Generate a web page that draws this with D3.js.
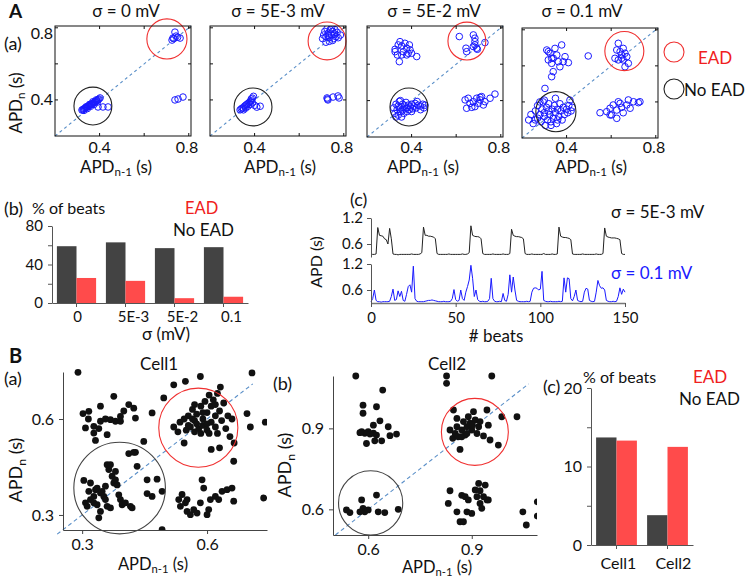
<!DOCTYPE html>
<html><head><meta charset="utf-8">
<script src="https://cdnjs.cloudflare.com/ajax/libs/d3/7.8.5/d3.min.js"></script>
<style>body{margin:0;background:#fff;} text{font-family:Lato,'Open Sans',sans-serif;fill:#111;}</style>
</head><body><script>
// ---------------- DATA ----------------
const sigmaTitles = ["σ = 0 mV", "σ = 5E-3 mV", "σ = 5E-2 mV", "σ = 0.1 mV"];
const apdTickLabelsA = [0.4, 0.8];
const apdTickMarksA = [0.4, 0.6, 0.8];

const returnMap0 = [
 [0.321,0.344],[0.325,0.346],[0.329,0.35],[0.333,0.352],[0.337,0.356],[0.341,0.358],[0.345,0.362],[0.349,0.365],
 [0.353,0.368],[0.357,0.372],[0.361,0.374],[0.365,0.378],[0.369,0.381],[0.373,0.384],[0.377,0.387],[0.381,0.39],
 [0.385,0.394],[0.389,0.397],[0.393,0.401],[0.397,0.405],[0.402,0.411],[0.33,0.342],[0.345,0.352],[0.36,0.365],
 [0.375,0.375],[0.39,0.388],[0.34,0.362],[0.355,0.375],[0.37,0.39],[0.385,0.4],
 [0.393,0.361],[0.415,0.361],[0.438,0.361],
 [0.729,0.743],[0.738,0.776],[0.761,0.743],[0.725,0.732],[0.743,0.754],[0.733,0.74],[0.75,0.748],
 [0.738,0.4],[0.752,0.405],[0.774,0.416]
];
const returnMap1 = [
 [0.335,0.345],[0.34,0.35],[0.345,0.355],[0.35,0.355],[0.355,0.365],[0.36,0.37],[0.365,0.375],[0.37,0.38],
 [0.375,0.385],[0.38,0.39],[0.385,0.395],[0.39,0.41],[0.395,0.42],[0.385,0.405],[0.37,0.365],[0.36,0.355],
 [0.38,0.375],[0.4,0.37],[0.41,0.36],[0.425,0.365],[0.35,0.345],[0.39,0.385],
 [0.705,0.74],[0.71,0.76],[0.715,0.78],[0.72,0.75],[0.725,0.795],[0.73,0.77],[0.735,0.745],[0.74,0.79],
 [0.745,0.76],[0.75,0.78],[0.755,0.74],[0.76,0.765],[0.765,0.75],[0.77,0.775],[0.775,0.745],[0.72,0.72],
 [0.735,0.725],[0.75,0.73],[0.785,0.76],[0.745,0.8],[0.73,0.76],[0.76,0.79],
 [0.725,0.411],[0.729,0.4],[0.752,0.416],[0.774,0.422],[0.779,0.411],[0.727,0.405]
];
const returnMap2 = [
 [0.326,0.682],[0.34,0.706],[0.348,0.724],[0.356,0.7],[0.363,0.669],[0.378,0.688],[0.385,0.66],[0.393,0.679],
 [0.4,0.66],[0.336,0.651],[0.356,0.651],[0.345,0.614],[0.423,0.642],[0.37,0.715],[0.39,0.706],[0.326,0.669],[0.378,0.651],
 [0.614,0.752],[0.644,0.688],[0.647,0.669],[0.677,0.761],[0.684,0.743],[0.684,0.724],[0.684,0.706],[0.692,0.688],
 [0.677,0.697],[0.729,0.719],[0.695,0.682],
 [0.32,0.36],[0.325,0.33],[0.33,0.38],[0.335,0.35],[0.34,0.32],[0.34,0.37],[0.345,0.395],[0.35,0.34],[0.35,0.36],
 [0.355,0.31],[0.36,0.38],[0.36,0.35],[0.365,0.33],[0.37,0.37],[0.37,0.355],[0.375,0.39],[0.38,0.34],[0.38,0.36],
 [0.385,0.375],[0.39,0.35],[0.395,0.365],[0.4,0.38],[0.405,0.355],[0.41,0.37],[0.415,0.385],[0.42,0.36],[0.43,0.375],
 [0.44,0.37],[0.45,0.38],[0.455,0.36],[0.46,0.375],[0.33,0.31],[0.35,0.4],[0.4,0.34],[0.425,0.395],[0.44,0.35],
 [0.64,0.404],[0.647,0.358],[0.654,0.413],[0.662,0.385],[0.677,0.394],[0.684,0.367],[0.692,0.413],[0.699,0.385],
 [0.707,0.404],[0.714,0.422],[0.722,0.376],[0.729,0.394],[0.752,0.413],[0.774,0.436],[0.67,0.363],[0.707,0.418]
];
const returnMap3 = [
 [0.311,0.688],[0.318,0.633],[0.326,0.67],[0.333,0.614],[0.34,0.642],[0.348,0.697],[0.356,0.66],[0.363,0.623],
 [0.37,0.595],[0.378,0.716],[0.385,0.623],[0.393,0.651],[0.408,0.618],[0.34,0.568],[0.333,0.54],[0.303,0.475],
 [0.497,0.655],[0.318,0.679],[0.333,0.642],
 [0.632,0.725],[0.625,0.688],[0.64,0.679],[0.647,0.66],[0.654,0.697],[0.662,0.67],[0.67,0.651],[0.654,0.633],
 [0.677,0.614],[0.662,0.595],[0.647,0.642],[0.617,0.642],[0.632,0.633],
 [0.55,0.34],[0.58,0.346],[0.595,0.365],[0.602,0.328],[0.609,0.383],[0.625,0.355],[0.625,0.309],[0.64,0.392],
 [0.647,0.37],[0.654,0.34],[0.67,0.383],[0.677,0.411],[0.685,0.365],[0.7,0.401],[0.722,0.396],[0.729,0.401],
 [0.632,0.401],[0.595,0.328],
 [0.23,0.3],[0.24,0.33],[0.25,0.28],[0.26,0.35],[0.27,0.31],[0.27,0.38],[0.28,0.33],[0.285,0.29],[0.29,0.36],
 [0.295,0.4],[0.3,0.32],[0.3,0.34],[0.305,0.27],[0.31,0.37],[0.315,0.3],[0.32,0.35],[0.32,0.39],[0.325,0.33],
 [0.33,0.29],[0.335,0.36],[0.34,0.31],[0.345,0.38],[0.35,0.34],[0.355,0.28],[0.36,0.36],[0.365,0.32],[0.37,0.39],
 [0.375,0.35],[0.38,0.3],[0.385,0.37],[0.39,0.33],[0.4,0.36],[0.405,0.34],[0.41,0.38],[0.415,0.41],[0.42,0.35],
 [0.425,0.37],[0.3,0.41],[0.35,0.42],[0.26,0.3],[0.33,0.27],[0.28,0.4],[0.36,0.3]
];
const returnMapsA = [returnMap0, returnMap1, returnMap2, returnMap3];
// [cx, cy, r] in data units
const eadCircleA = [[0.702,0.738,0.09],[0.725,0.727,0.085],[0.648,0.727,0.085],[0.659,0.682,0.0875]];
const noEadCircleA = [[0.37,0.366,0.085],[0.393,0.361,0.085],[0.388,0.365,0.085],[0.352,0.346,0.09]];

const sigmaCats = ["0", "5E-3", "5E-2", "0.1"];
const pctNoEAD = [59, 63, 57, 58];
const pctEAD = [26, 23, 5, 6.5];
const pctTicks = [0, 20, 40, 60, 80];

const traceSigmaLow = [
 0.37,0.36,0.36,0.37,0.98,0.80,0.79,0.78,0.72,0.70,
 0.60,0.96,0.72,0.37,0.36,0.36,0.35,0.36,0.36,0.36,
 0.36,0.36,0.36,0.36,0.37,0.36,0.36,0.36,0.36,0.37,
 0.40,0.99,0.80,0.80,0.78,0.78,0.77,0.76,0.72,0.38,
 0.36,0.36,0.36,0.36,0.36,0.36,0.37,0.36,0.36,0.36,
 0.36,0.36,0.36,0.36,0.37,0.36,0.36,0.37,0.40,1.02,
 0.80,0.78,0.77,0.77,0.76,0.72,0.38,0.36,0.36,0.36,
 0.36,0.36,0.37,0.36,0.36,0.36,0.36,0.36,0.37,0.36,
 0.36,0.36,0.38,0.94,0.80,0.78,0.77,0.77,0.76,0.75,
 0.72,0.38,0.36,0.36,0.36,0.37,0.36,0.36,0.36,0.36,
 0.36,0.36,0.38,0.36,0.36,0.36,0.36,0.37,0.36,0.36,
 0.37,0.99,0.78,0.76,0.75,0.75,0.74,0.73,0.70,0.37,
 0.36,0.36,0.36,0.36,0.36,0.37,0.36,0.36,0.36,0.36,
 0.36,0.36,0.36,0.37,0.36,0.36,0.36,0.38,0.97,0.78,
 0.76,0.75,0.74,0.74,0.74,0.73,0.72,0.70,0.38,0.36,
 0.36
];
const traceSigmaHigh = [
 0.33,0.40,0.60,0.36,0.33,0.33,0.32,0.33,0.33,0.33,
 0.33,0.34,0.45,0.62,0.36,0.38,0.58,0.45,0.57,0.36,
 0.34,0.50,0.68,0.72,0.55,1.15,0.40,0.34,0.33,0.33,
 0.33,0.33,0.34,0.35,0.36,0.36,0.37,0.36,0.35,0.34,
 0.33,0.33,0.33,0.34,0.33,0.33,0.33,0.34,0.40,0.61,
 0.38,0.34,0.36,0.60,0.40,0.36,0.55,0.68,0.83,1.17,
 0.87,0.45,0.60,0.38,0.34,0.33,0.34,0.33,0.33,0.34,
 0.40,0.87,0.40,0.34,0.33,0.33,0.34,0.33,0.52,0.36,
 0.34,0.50,0.95,0.55,0.90,0.60,0.36,0.34,0.33,0.33,
 0.33,0.33,0.34,0.33,0.34,0.55,0.64,0.65,0.64,0.60,
 0.62,1.03,0.36,0.34,0.33,0.33,0.34,0.33,0.33,0.33,
 0.33,0.34,0.33,0.34,0.88,0.55,0.88,0.86,0.40,0.35,
 0.45,0.60,0.36,0.34,0.33,0.34,0.55,0.64,0.62,0.36,
 0.34,0.33,0.34,0.55,0.82,0.70,0.64,0.65,0.60,0.36,
 0.34,0.33,0.33,0.34,0.33,0.34,0.45,0.65,0.50,0.62,
 0.55
];
const beatTicks = [0, 50, 100, 150];
const apdTraceTicks = [0.6, 1.2];

const cell1Map = [
 [0.29,0.746],[0.302,0.617],[0.316,0.624],[0.344,0.64],[0.376,0.671],[0.368,0.598],[0.38,0.593],[0.392,0.608],
 [0.412,0.645],[0.424,0.634],[0.308,0.572],[0.328,0.577],[0.328,0.556],[0.332,0.533],[0.36,0.551],[0.344,0.593],
 [0.392,0.593],[0.428,0.603],[0.468,0.619],[0.448,0.53],[0.428,0.496],[0.412,0.492],[0.4,0.625],[0.356,0.6],
 [0.315,0.6],[0.34,0.57],
 [0.496,0.666],[0.52,0.707],[0.548,0.718],[0.584,0.733],[0.632,0.7],[0.708,0.744],[0.696,0.617],[0.704,0.575],
 [0.74,0.59],[0.664,0.468],[0.736,0.353],
 [0.52,0.575],[0.53,0.56],[0.535,0.59],[0.545,0.525],[0.55,0.565],[0.555,0.61],[0.56,0.575],[0.565,0.63],
 [0.57,0.595],[0.57,0.56],[0.575,0.615],[0.58,0.57],[0.585,0.64],[0.585,0.555],[0.59,0.6],[0.59,0.58],
 [0.595,0.655],[0.6,0.62],[0.6,0.565],[0.605,0.675],[0.61,0.59],[0.61,0.64],[0.615,0.66],[0.62,0.61],
 [0.625,0.555],[0.625,0.68],[0.63,0.625],[0.635,0.595],[0.64,0.65],[0.645,0.57],[0.65,0.61],[0.655,0.545],
 [0.66,0.6],[0.665,0.525],[0.63,0.51],[0.61,0.505],[0.575,0.585],[0.565,0.6],[0.555,0.58],[0.59,0.62],
 [0.6,0.585],[0.62,0.575],[0.62,0.645],[0.57,0.645],[0.545,0.6],[0.605,0.555],
 [0.304,0.408],[0.308,0.338],[0.316,0.374],[0.32,0.348],[0.328,0.358],[0.332,0.379],[0.336,0.332],[0.34,0.291],
 [0.344,0.311],[0.344,0.369],[0.352,0.358],[0.356,0.39],[0.36,0.457],[0.364,0.442],[0.368,0.457],[0.372,0.421],
 [0.376,0.4],[0.38,0.436],[0.384,0.394],[0.388,0.363],[0.392,0.348],[0.396,0.332],[0.404,0.338],[0.416,0.327],
 [0.42,0.322],[0.36,0.327],[0.368,0.322],[0.424,0.496],[0.432,0.452],[0.456,0.41],[0.456,0.367],[0.468,0.358],
 [0.48,0.412],[0.492,0.374],[0.38,0.41],[0.32,0.4],[0.336,0.384],[0.348,0.374],[0.356,0.348],[0.328,0.338],
 [0.312,0.327],
 [0.532,0.348],[0.536,0.327],[0.548,0.338],[0.552,0.311],[0.56,0.301],[0.568,0.317],[0.576,0.306],[0.584,0.338],
 [0.588,0.41],[0.592,0.384],[0.6,0.301],[0.604,0.317],[0.608,0.348],[0.62,0.358],[0.628,0.348],[0.636,0.374],
 [0.648,0.379],[0.66,0.384],[0.664,0.343],[0.552,0.348],[0.54,0.364],[0.492,0.254]
];
const cell2Map = [
 [0.585,0.986],[0.585,0.956],[0.624,0.98],[0.642,1.042],[0.581,0.888],[0.59,0.882],[0.6,0.888],[0.615,0.912],
 [0.634,0.928],[0.615,0.882],[0.595,0.844],[0.619,0.854],[0.639,0.854],[0.658,0.906],[0.663,0.873],[0.682,0.879],
 [0.605,0.879],[0.576,0.884],[0.624,0.875],
 [0.564,1.094],[0.827,1.094],[0.827,1.067],[0.958,1.094],
 [0.837,0.894],[0.845,0.863],[0.852,0.881],[0.857,0.906],[0.861,0.869],[0.866,0.822],[0.871,0.894],[0.876,0.925],
 [0.881,0.875],[0.886,0.906],[0.89,0.943],[0.895,0.919],[0.9,0.894],[0.905,0.962],[0.91,0.931],[0.915,0.881],
 [0.92,0.906],[0.924,0.925],[0.934,0.872],[0.944,0.968],[0.948,0.912],[0.953,0.857],[0.977,0.838],[0.847,0.968],
 [0.857,0.937],[0.871,0.869],[0.886,0.881],[0.902,0.912],[0.987,0.943],[1.031,0.943],
 [0.537,0.598],[0.547,0.588],[0.581,0.635],[0.585,0.604],[0.59,0.591],[0.6,0.598],[0.624,0.653],[0.629,0.591],
 [0.648,0.588],[0.687,0.6],[0.576,0.591],
 [0.837,0.669],[0.832,0.622],[0.857,0.591],[0.866,0.554],[0.876,0.554],[0.871,0.652],[0.881,0.647],[0.89,0.635],
 [0.9,0.585],[0.91,0.672],[0.92,0.696],[0.924,0.669],[0.924,0.622],[0.934,0.647],[0.939,0.69],[0.944,0.635],
 [0.948,0.635],[0.929,0.604],[0.915,0.647],[0.886,0.591],
 [1.048,0.591],[1.058,0.542],[1.09,0.628],[1.09,0.575]
];
const cellCats = ["Cell1", "Cell2"];
const cellNoEAD = [13.7, 3.8];
const cellEAD = [13.3, 12.5];
const cellPctTicks = [0, 5, 10, 15, 20];

// ---------------- STYLE ----------------
const RED = "#ff4b4b", DARK = "#434343", BLUE = "#1a1aff", DIAG = "#5a8fc8";
const W = 750, H = 578;
const svg = d3.select("body").append("svg").attr("width", W).attr("height", H);

function txt(x, y, s, size, opt = {}) {
  const t = svg.append("text").attr("x", x).attr("y", y).attr("font-size", size).text(s);
  if (opt.anchor) t.attr("text-anchor", opt.anchor);
  if (opt.fill) t.style("fill", opt.fill);
  if (opt.weight) t.attr("font-weight", opt.weight);
  return t;
}
function apdLabel(x, y, sub, size, rotate) {
  const t = svg.append("text").attr("x", x).attr("y", y).attr("font-size", size).attr("text-anchor", "middle");
  if (rotate) t.attr("transform", `rotate(-90,${x},${y})`);
  t.append("tspan").text("APD");
  t.append("tspan").text(sub).attr("font-size", size * 0.68).attr("dy", size * 0.2);
  t.append("tspan").text(" (s)").attr("dy", -size * 0.2);
  return t;
}

// ---------------- PANEL A(a) ----------------
const domA = [0.2, 0.81];
const layA = [
  {x0: 55, x1: 191, y0: 26, y1: 136, title: 126, xl: 116},
  {x0: 210, x1: 346, y0: 26, y1: 136, title: 278, xl: 280},
  {x0: 367, x1: 503, y0: 26, y1: 137, title: 434, xl: 423},
  {x0: 522, x1: 658, y0: 28, y1: 138, title: 582, xl: 591}
];
returnMapsA.forEach((pts, i) => {
  const L = layA[i];
  const x = d3.scaleLinear().domain(domA).range([L.x0, L.x1]);
  const y = d3.scaleLinear().domain(domA).range([L.y1, L.y0]);
  const g = svg.append("g");
  const cid = "clipA" + i;
  svg.append("clipPath").attr("id", cid).append("rect")
    .attr("x", L.x0).attr("y", L.y0).attr("width", L.x1 - L.x0).attr("height", L.y1 - L.y0);
  g.append("line").attr("x1", x(domA[0])).attr("y1", y(domA[0])).attr("x2", x(domA[1])).attr("y2", y(domA[1]))
    .attr("stroke", DIAG).attr("stroke-width", 1.1).attr("stroke-dasharray", "3,3");
  g.append("g").attr("clip-path", `url(#${cid})`).selectAll("circle").data(pts).join("circle")
    .attr("cx", d => x(d[0])).attr("cy", d => y(d[1])).attr("r", 3.3)
    .attr("fill", "none").attr("stroke", BLUE).attr("stroke-width", 1);
  [[eadCircleA[i], "#f03030"], [noEadCircleA[i], "#222"]].forEach(([c, col]) => {
    g.append("circle").attr("cx", x(c[0])).attr("cy", y(c[1])).attr("r", x(c[0] + c[2]) - x(c[0]))
      .attr("fill", "none").attr("stroke", col).attr("stroke-width", 1.1);
  });
  g.append("rect").attr("x", L.x0).attr("y", L.y0).attr("width", L.x1 - L.x0).attr("height", L.y1 - L.y0)
    .attr("fill", "none").attr("stroke", "#111").attr("stroke-width", 1);
  apdTickMarksA.forEach(v => {
    g.append("line").attr("x1", x(v)).attr("x2", x(v)).attr("y1", L.y1).attr("y2", L.y1 - 3).attr("stroke", "#111");
    g.append("line").attr("x1", x(v)).attr("x2", x(v)).attr("y1", L.y0).attr("y2", L.y0 + 3).attr("stroke", "#111");
    g.append("line").attr("y1", y(v)).attr("y2", y(v)).attr("x1", L.x0).attr("x2", L.x0 + 3).attr("stroke", "#111");
    g.append("line").attr("y1", y(v)).attr("y2", y(v)).attr("x1", L.x1).attr("x2", L.x1 - 3).attr("stroke", "#111");
  });
  apdTickLabelsA.forEach(v => {
    txt(Math.min(x(v), L.x1 - 4), 153, v.toFixed(1), 16, {anchor: "middle"});
    if (i === 0) txt(L.x0 - 2, Math.max(y(v), 33) + 5.5, v.toFixed(1), 16, {anchor: "end"});
  });
  txt(L.title, 17, sigmaTitles[i], 17, {anchor: "middle"});
  apdLabel(L.xl, 173, "n-1", 17, false);
});
txt(9, 18, "A", 19, {weight: "bold"});
txt(4, 50, "(a)", 18);
apdLabel(22, 103, "n", 17, true);
// legend
svg.append("circle").attr("cx", 674).attr("cy", 52).attr("r", 10).attr("fill", "none").attr("stroke", "#f03030").attr("stroke-width", 1.1);
svg.append("circle").attr("cx", 674).attr("cy", 89).attr("r", 10).attr("fill", "none").attr("stroke", "#222").attr("stroke-width", 1.1);
txt(698, 64, "EAD", 17, {fill: "#f02020"});
txt(684, 96, "No EAD", 17);

// ---------------- PANEL A(b) ----------------
{
  const x = d3.scaleBand().domain(sigmaCats).range([52, 248]).paddingInner(0.2).paddingOuter(0.1);
  const y = d3.scaleLinear().domain([0, 80]).range([303, 226]);
  const bw = x.bandwidth() / 2;
  svg.append("g").selectAll("rect").data(sigmaCats).join("rect")
    .attr("x", d => x(d)).attr("width", bw).attr("y", (d, i) => y(pctNoEAD[i])).attr("height", (d, i) => 303 - y(pctNoEAD[i])).attr("fill", DARK);
  svg.append("g").selectAll("rect").data(sigmaCats).join("rect")
    .attr("x", d => x(d) + bw).attr("width", bw).attr("y", (d, i) => y(pctEAD[i])).attr("height", (d, i) => 303 - y(pctEAD[i])).attr("fill", RED);
  const ya = svg.append("g").attr("transform", "translate(52,0)")
    .call(d3.axisLeft(y).tickValues(pctTicks).tickSize(4).tickSizeOuter(0).tickFormat(d => d % 40 === 0 ? d : ""));
  const xa = svg.append("g").attr("transform", "translate(0,303)")
    .call(d3.axisBottom(x).tickSize(4).tickSizeOuter(0));
  [ya, xa].forEach(a => { a.selectAll("path,line").attr("stroke", "#555"); a.selectAll("text").attr("font-size", 15).style("fill", "#111").attr("font-family", null); });
  xa.selectAll("text").attr("dy", 12).attr("dx", (d, i) => i === 0 ? 1 : 8);
  ya.selectAll("text").attr("dx", -2);
  txt(4, 215, "(b)", 18);
  txt(32, 214, "% of beats", 16);
  txt(185, 214, "EAD", 16.5, {fill: "#f02020"});
  txt(173, 236, "No EAD", 17);
  txt(166, 340, "σ (mV)", 17, {anchor: "middle"});
}

// ---------------- PANEL A(c) ----------------
{
  const x = d3.scaleLinear().domain([0, 150]).range([371, 625]);
  const yTop = d3.scaleLinear().domain([0.3, 1.2]).range([257, 218]);
  const yBot = d3.scaleLinear().domain([0.3, 1.2]).range([303, 264]);
  const line = ys => d3.line().x((d, i) => x(i)).y(d => ys(d));
  svg.append("path").datum(traceSigmaLow).attr("d", line(yTop)).attr("fill", "none").attr("stroke", "#222").attr("stroke-width", 1);
  svg.append("path").datum(traceSigmaHigh).attr("d", line(yBot)).attr("fill", "none").attr("stroke", BLUE).attr("stroke-width", 1);
  [yTop, yBot].forEach(ys => {
    const a = svg.append("g").attr("transform", "translate(371,0)")
      .call(d3.axisLeft(ys).tickValues(apdTraceTicks).tickSize(4).tickSizeOuter(0).tickFormat(d3.format(".1f")));
    a.selectAll("path,line").attr("stroke", "#555");
    a.selectAll("text").attr("font-size", 15).style("fill", "#111").attr("font-family", null).attr("dx", -1);
  });
  const xa = svg.append("g").attr("transform", "translate(0,303)")
    .call(d3.axisBottom(x).tickValues(beatTicks).tickSize(4).tickSizeOuter(0));
  xa.selectAll("path").attr("stroke", "#777").attr("stroke-width", 1.5);
  xa.selectAll("line").attr("stroke", "#555");
  xa.selectAll("text").attr("font-size", 15).style("fill", "#111").attr("font-family", null).attr("dy", 13);
  txt(350, 206, "(c)", 18);
  const t = txt(322, 262, "APD (s)", 16, {anchor: "middle"});
  t.attr("transform", "rotate(-90,322,262)");
  txt(496, 342, "# beats", 17, {anchor: "middle"});
  txt(611, 218, "σ = 5E-3 mV", 17);
  txt(611, 279, "σ = 0.1 mV", 17, {fill: BLUE});
}

// ---------------- PANEL B(a),(b) ----------------
function cellScatter(pts, xd, yd, L, ticks, ead, noEad, diag) {
  const x = d3.scaleLinear().domain(xd).range([L.x0, L.x1]);
  const y = d3.scaleLinear().domain(yd).range([L.y1, L.y0]);
  const cid = "clip" + L.x0;
  svg.append("clipPath").attr("id", cid).append("rect")
    .attr("x", L.x0).attr("y", L.y0 - 4).attr("width", L.x1 - L.x0).attr("height", L.y1 - L.y0 + 4);
  svg.append("line").attr("x1", x(diag[0])).attr("y1", y(diag[0])).attr("x2", x(diag[1])).attr("y2", y(diag[1]))
    .attr("stroke", DIAG).attr("stroke-width", 1.1).attr("stroke-dasharray", "4,3");
  svg.append("g").attr("clip-path", `url(#${cid})`).selectAll("circle").data(pts).join("circle")
    .attr("cx", d => x(d[0])).attr("cy", d => y(d[1])).attr("r", 3.4).attr("fill", "#111");
  [[ead, "#f03030"], [noEad, "#444"]].forEach(([c, col]) => {
    svg.append("circle").attr("cx", x(c[0])).attr("cy", y(c[1])).attr("r", x(c[0] + c[2]) - x(c[0]))
      .attr("fill", "none").attr("stroke", col).attr("stroke-width", 1.1);
  });
  const xa = svg.append("g").attr("transform", `translate(0,${L.y1})`)
    .call(d3.axisBottom(x).tickValues(ticks).tickSize(4).tickSizeOuter(0).tickFormat(d3.format(".1f")));
  const ya = svg.append("g").attr("transform", `translate(${L.x0},0)`)
    .call(d3.axisLeft(y).tickValues(ticks).tickSize(4).tickSizeOuter(0).tickFormat(d3.format(".1f")));
  [xa, ya].forEach(a => { a.selectAll("path,line").attr("stroke", "#444"); a.selectAll("text").attr("font-size", 16).style("fill", "#111").attr("font-family", null); });
  xa.selectAll("text").attr("dy", 12.5);
  ya.selectAll("text").attr("dx", -2);
}
cellScatter(cell1Map, [0.254, 0.744], [0.253, 0.747], {x0: 63, x1: 267, y0: 372, y1: 530}, [0.3, 0.6],
  [0.579, 0.573, 0.095], [0.39, 0.384, 0.11], [0.24, 0.71]);
cellScatter(cell2Map, [0.498, 1.089], [0.505, 1.094], {x0: 333, x1: 537, y0: 376, y1: 535}, [0.6, 0.9],
  [0.909, 0.887, 0.097], [0.607, 0.624, 0.093], [0.505, 1.065]);
txt(9, 363, "B", 20, {weight: "bold"});
txt(159, 370, "Cell1", 17, {anchor: "middle"});
txt(4, 385, "(a)", 18);
apdLabel(22, 470, "n", 18, true);
apdLabel(153, 570, "n-1", 16.5, false);
txt(447, 370, "Cell2", 17, {anchor: "middle"});
txt(273, 390, "(b)", 18);
apdLabel(291, 465, "n", 18, true);
apdLabel(437, 573, "n-1", 16.5, false);

// ---------------- PANEL B(c) ----------------
{
  const x = d3.scaleBand().domain(cellCats).range([591, 693]).paddingInner(0.2).paddingOuter(0.1);
  const y = d3.scaleLinear().domain([0, 20]).range([545, 388]);
  const bw = x.bandwidth() / 2;
  svg.append("g").selectAll("rect").data(cellCats).join("rect")
    .attr("x", d => x(d)).attr("width", bw).attr("y", (d, i) => y(cellNoEAD[i])).attr("height", (d, i) => 545 - y(cellNoEAD[i])).attr("fill", DARK);
  svg.append("g").selectAll("rect").data(cellCats).join("rect")
    .attr("x", d => x(d) + bw).attr("width", bw).attr("y", (d, i) => y(cellEAD[i])).attr("height", (d, i) => 545 - y(cellEAD[i])).attr("fill", RED);
  const ya = svg.append("g").attr("transform", "translate(591,0)")
    .call(d3.axisLeft(y).tickValues(cellPctTicks).tickSize(4).tickSizeOuter(0).tickFormat(d => d % 10 === 0 ? d : ""));
  const xa = svg.append("g").attr("transform", "translate(0,545)")
    .call(d3.axisBottom(x).tickSize(4).tickSizeOuter(0));
  [ya, xa].forEach(a => { a.selectAll("path,line").attr("stroke", "#555"); a.selectAll("text").attr("font-size", 16).style("fill", "#111").attr("font-family", null); });
  xa.selectAll("text").attr("dy", 17).attr("dx", (d, i) => i === 0 ? 2 : 6);
  ya.selectAll("text").attr("dx", -2);
  txt(543, 393, "(c)", 18);
  txt(583, 383, "% of beats", 16);
  txt(693, 383, "EAD", 17, {fill: "#f02020"});
  txt(679, 405, "No EAD", 17);
}
</script></body></html>
